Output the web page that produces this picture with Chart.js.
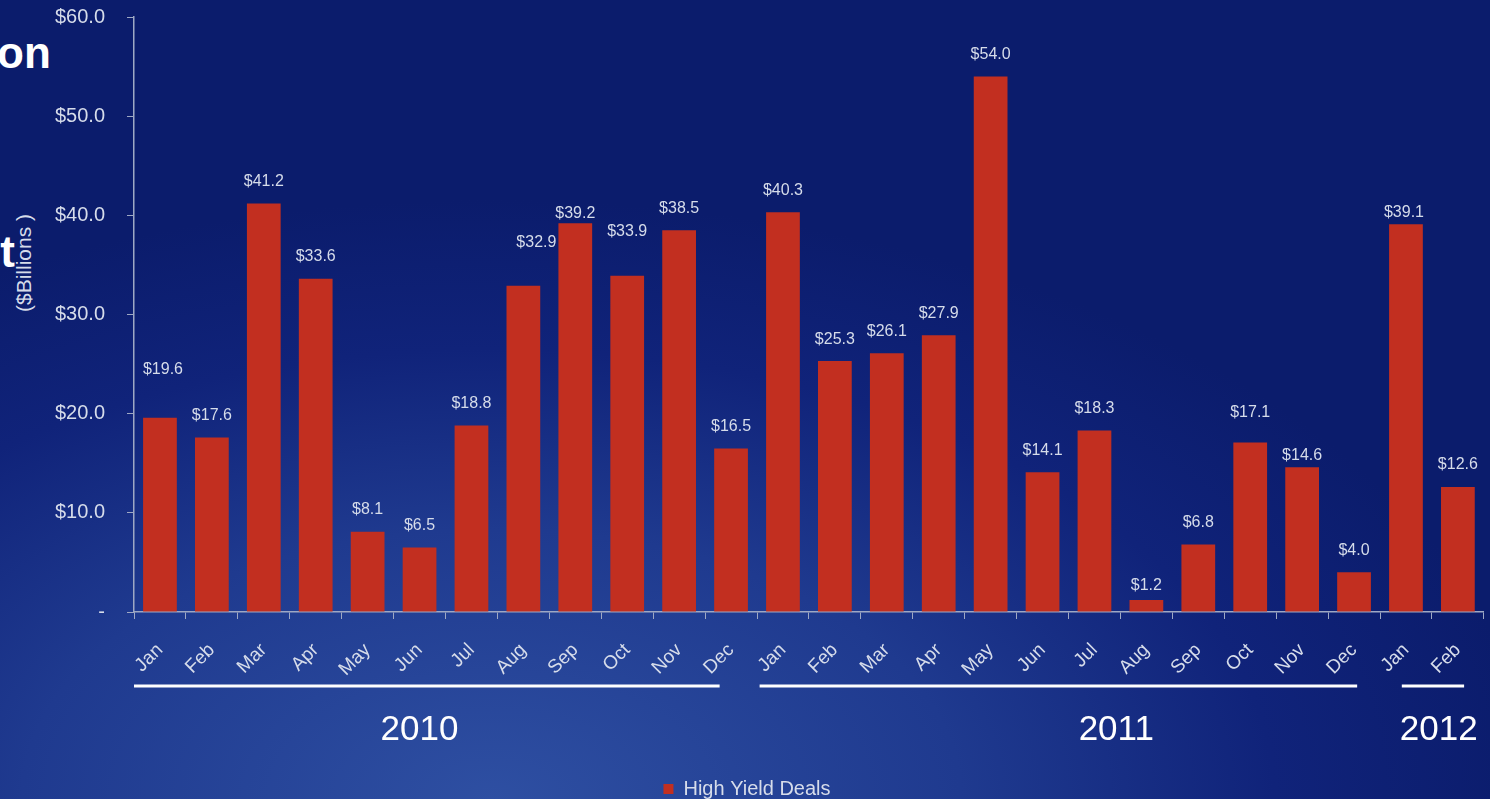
<!DOCTYPE html>
<html>
<head>
<meta charset="utf-8">
<script src="https://cdn.jsdelivr.net/npm/chart.js@4/dist/chart.umd.min.js"></script>
<style>
  html, body { margin: 0; padding: 0; }
  body {
    width: 1490px; height: 799px; overflow: hidden; position: relative;
    background: radial-gradient(ellipse 70% 75% at 33% 100%, #2e4fa2 0%, #1f3a8f 45%, #10237a 75%, #0b1c6c 100%);
    font-family: "Liberation Sans", Arial, sans-serif;
  }
  #wrap { position: absolute; left: 0; top: -17px; width: 1494px; height: 826px; }
  .frag { position: absolute; color: #fff; font-weight: bold; font-size: 44px; line-height: 1; }
  #ytitle {
    position: absolute; left: 24px; top: 263px; color: #d6dcea; font-size: 21px;
    white-space: nowrap; transform: translate(-50%, -50%) rotate(-90deg);
  }
</style>
</head>
<body>
<div class="frag" style="left:-3px; top:31px;">on</div>
<div class="frag" style="left:-12px; top:230px;">it</div>
<div id="ytitle">($Billions )</div>
<div id="wrap"><canvas id="chart" width="1494" height="826"></canvas></div>
<script>
// Monthly high yield issuance, $ billions
const months2010 = ['Jan', 'Feb', 'Mar', 'Apr', 'May', 'Jun', 'Jul', 'Aug', 'Sep', 'Oct', 'Nov', 'Dec'];
const months2011 = ['Jan', 'Feb', 'Mar', 'Apr', 'May', 'Jun', 'Jul', 'Aug', 'Sep', 'Oct', 'Nov', 'Dec'];
const months2012 = ['Jan', 'Feb'];
const deals2010 = [19.6, 17.6, 41.2, 33.6, 8.1, 6.5, 18.8, 32.9, 39.2, 33.9, 38.5, 16.5];
const deals2011 = [40.3, 25.3, 26.1, 27.9, 54.0, 14.1, 18.3, 1.2, 6.8, 17.1, 14.6, 4.0];
const deals2012 = [39.1, 12.6];
const years = ['2010', '2011', '2012'];
const yTicks = [0, 10, 20, 30, 40, 50, 60];

const labels = [...months2010, ...months2011, ...months2012];
const values = [...deals2010, ...deals2011, ...deals2012];

// underline span (in category units, -0.5 = left edge of first slot) and caption position
const n10 = months2010.length, n11 = months2011.length;
const yearGroups = [
  { name: years[0], from: -0.5, to: n10 - 1 - 0.22, caption: 5.0 },
  { name: years[1], from: n10 - 0.45, to: n10 + n11 - 1 + 0.06, caption: 18.42 },
  { name: years[2], from: n10 + n11 - 0.08, to: labels.length - 1 + 0.12, caption: 24.63 }
];

// hand-placed data labels (pixel nudges from the default spot)
const labelNudge = { 0: [3, -26], 7: [13, -21], 9: [0, -22], 8: [0, 12], 21: [0, -8], 22: [0, 10], 24: [-2, 10], 19: [0, 7] };

const font = '"Liberation Sans", Arial, sans-serif';
const textColor = '#d6dcea';
const axisColor = '#9ea8c4';
const barColor = '#c22f20';

// value labels above each bar
const valueLabels = {
  id: 'valueLabels',
  afterDatasetsDraw(chart) {
    const ctx = chart.ctx;
    const meta = chart.getDatasetMeta(0);
    ctx.save();
    ctx.font = '16px ' + font;
    ctx.fillStyle = textColor;
    ctx.textAlign = 'center';
    ctx.textBaseline = 'middle';
    meta.data.forEach((bar, i) => {
      const [dx, dy] = labelNudge[i] || [0, 0];
      ctx.fillText('$' + values[i].toFixed(1), bar.x + dx, bar.y - 22 + dy);
    });
    ctx.restore();
  }
};

// year underlines and captions below the month labels
const yearBands = {
  id: 'yearBands',
  afterDraw(chart) {
    const ctx = chart.ctx;
    const x = chart.scales.x;
    const base = chart.chartArea.bottom;
    const step = x.getPixelForValue(1) - x.getPixelForValue(0);
    const px = v => x.getPixelForValue(0) + v * step;
    ctx.save();
    ctx.strokeStyle = '#ffffff';
    ctx.lineWidth = 3;
    ctx.fillStyle = '#ffffff';
    ctx.font = '35px ' + font;
    ctx.textAlign = 'center';
    ctx.textBaseline = 'middle';
    yearGroups.forEach(g => {
      ctx.beginPath();
      ctx.moveTo(px(g.from), base + 74);
      ctx.lineTo(px(g.to), base + 74);
      ctx.stroke();
      ctx.fillText(g.name, px(g.caption), base + 118);
    });
    ctx.restore();
  }
};

new Chart(document.getElementById('chart'), {
  type: 'bar',
  data: {
    labels: labels,
    datasets: [{
      label: 'High Yield Deals',
      data: values,
      backgroundColor: barColor,
      borderWidth: 0,
      barPercentage: 0.65,
      categoryPercentage: 1.0
    }]
  },
  options: {
    responsive: false,
    animation: false,
    layout: { autoPadding: false, padding: { top: 17, right: 0, left: 0, bottom: 0 } },
    plugins: {
      legend: {
        position: 'bottom',
        labels: {
          color: textColor,
          font: { size: 20, family: font },
          boxWidth: 10,
          boxHeight: 10,
          padding: 4
        }
      },
      tooltip: { enabled: false }
    },
    scales: {
      x: {
        grid: { offset: true, drawOnChartArea: false, color: axisColor, tickLength: 7 },
        border: { color: axisColor, width: 1.5 },
        ticks: {
          color: textColor,
          minRotation: 45,
          maxRotation: 45,
          padding: 20,
          font: { size: 19, family: font }
        },
        afterFit(scale) { scale.height = 163; }
      },
      y: {
        min: 0,
        max: 60,
        afterBuildTicks(scale) { scale.ticks = yTicks.map(v => ({ value: v })); },
        grid: { drawOnChartArea: false, color: axisColor, tickLength: 7 },
        border: { color: axisColor, width: 1.5 },
        ticks: {
          color: textColor,
          padding: 22,
          font: { size: 20, family: font },
          callback: v => v === 0 ? '-' : '$' + v.toFixed(1)
        },
        afterFit(scale) { scale.width = 134; }
      }
    }
  },
  plugins: [valueLabels, yearBands]
});
</script>
</body>
</html>
